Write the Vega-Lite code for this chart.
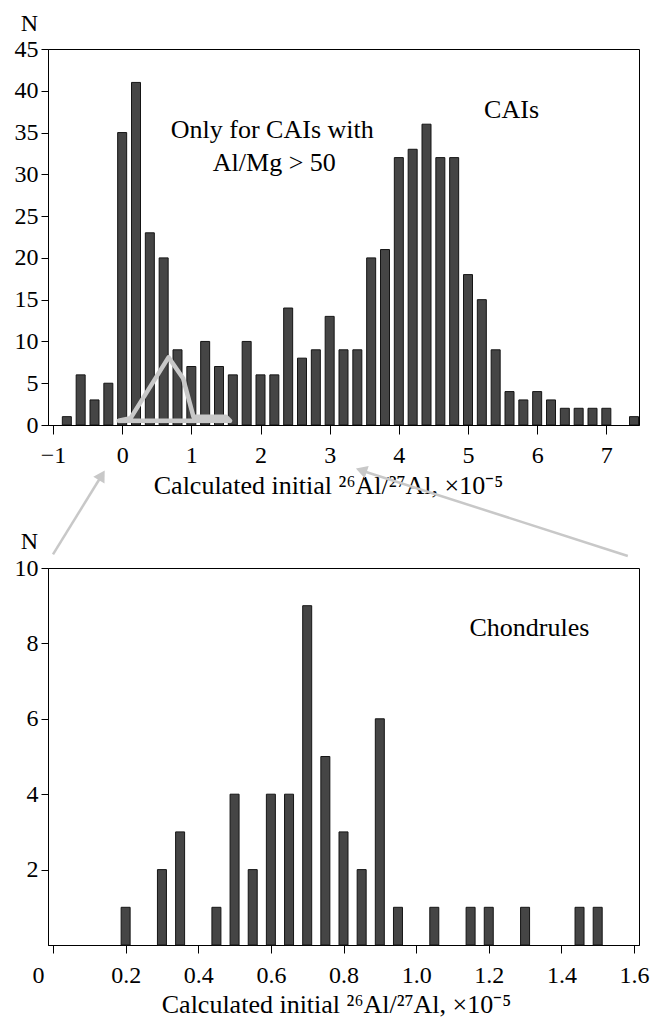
{
  "$schema": "https://vega.github.io/schema/vega-lite/v6.json",
  "padding": {"left": 13, "top": 10, "right": 5, "bottom": 0},
  "spacing": 143,
  "bounds": "flush",
  "background": "white",
  "config": {
    "font": "Liberation Serif",
    "view": {"stroke": "black", "strokeWidth": 1},
    "axis": {
      "domainColor": "black", "tickColor": "black", "labelColor": "black", "titleColor": "black",
      "labelFont": "Liberation Serif", "titleFont": "Liberation Serif",
      "labelFontSize": 24, "titleFontSize": 26, "titleFontWeight": "normal",
      "grid": false, "domainWidth": 1, "tickWidth": 1, "labelFlush": false, "labelOverlap": false
    },
    "text": {"font": "Liberation Serif", "fontSize": 26, "color": "black"}
  },
  "vconcat": [
    {
      "width": 591,
      "height": 376,
      "layer": [
        {
          "data": {"values": [
            {"value": -0.8, "count": 1}, {"value": -0.6, "count": 6}, {"value": -0.4, "count": 3},
            {"value": -0.2, "count": 5}, {"value": 0.0, "count": 35}, {"value": 0.2, "count": 41},
            {"value": 0.4, "count": 23}, {"value": 0.6, "count": 20}, {"value": 0.8, "count": 9},
            {"value": 1.0, "count": 7}, {"value": 1.2, "count": 10}, {"value": 1.4, "count": 7},
            {"value": 1.6, "count": 6}, {"value": 1.8, "count": 10}, {"value": 2.0, "count": 6},
            {"value": 2.2, "count": 6}, {"value": 2.4, "count": 14}, {"value": 2.6, "count": 8},
            {"value": 2.8, "count": 9}, {"value": 3.0, "count": 13}, {"value": 3.2, "count": 9},
            {"value": 3.4, "count": 9}, {"value": 3.6, "count": 20}, {"value": 3.8, "count": 21},
            {"value": 4.0, "count": 32}, {"value": 4.2, "count": 33}, {"value": 4.4, "count": 36},
            {"value": 4.6, "count": 32}, {"value": 4.8, "count": 32}, {"value": 5.0, "count": 18},
            {"value": 5.2, "count": 15}, {"value": 5.4, "count": 9}, {"value": 5.6, "count": 4},
            {"value": 5.8, "count": 3}, {"value": 6.0, "count": 4}, {"value": 6.2, "count": 3},
            {"value": 6.4, "count": 2}, {"value": 6.6, "count": 2}, {"value": 6.8, "count": 2},
            {"value": 7.0, "count": 2}, {"value": 7.4, "count": 1}
          ]},
          "mark": {"type": "bar", "size": 9, "fill": "#454545", "stroke": "#151515", "strokeWidth": 1, "clip": true},
          "encoding": {
            "x": {
              "field": "value", "type": "quantitative",
              "scale": {"domain": [-1, 7.4], "nice": false, "zero": false},
              "axis": {
                "values": [-1, 0, 1, 2, 3, 4, 5, 6, 7], "format": "d",
                "tickSize": 9, "labelPadding": 28, "labelBaseline": "alphabetic",
                "title": "Calculated initial ²⁶Al/²⁷Al, ×10⁻⁵",
                "titleX": 280, "titleY": 68, "titleAlign": "center", "titleBaseline": "alphabetic"
              }
            },
            "y": {
              "field": "count", "type": "quantitative",
              "scale": {"domain": [0, 45], "nice": false},
              "axis": {
                "values": [0, 5, 10, 15, 20, 25, 30, 35, 40, 45],
                "tickSize": 7, "labelPadding": 3,
                "title": "N", "titleFontSize": 24, "titleAngle": 0, "titleX": -19, "titleY": -19,
                "titleAlign": "center", "titleBaseline": "alphabetic"
              }
            }
          }
        },
        {
          "data": {"values": [
            {"x": -0.05, "y": 0.5, "order": 1},
            {"x": 0.12, "y": 0.8, "order": 2},
            {"x": 0.67, "y": 8.1, "order": 3},
            {"x": 0.88, "y": 5.6, "order": 4},
            {"x": 1.03, "y": 1.0, "order": 5},
            {"x": 1.5, "y": 1.0, "order": 6},
            {"x": 1.56, "y": 0.5, "order": 7},
            {"x": -0.05, "y": 0.5, "order": 8}
          ]},
          "mark": {"type": "line", "color": "#c8c8c8", "strokeWidth": 4.5, "strokeJoin": "round", "strokeCap": "round"},
          "encoding": {
            "x": {"field": "x", "type": "quantitative", "scale": {"domain": [-1, 7.4], "nice": false, "zero": false}},
            "y": {"field": "y", "type": "quantitative", "scale": {"domain": [0, 45], "nice": false}},
            "order": {"field": "order", "type": "quantitative"}
          }
        },
        {
          "data": {"values": [
            {"x": 5.63, "y": 36.76, "label": "CAIs"},
            {"x": 2.17, "y": 34.37, "label": "Only for CAIs with"},
            {"x": 2.2, "y": 30.38, "label": "Al/Mg > 50"}
          ]},
          "mark": {"type": "text", "align": "center", "baseline": "alphabetic"},
          "encoding": {
            "x": {"field": "x", "type": "quantitative", "scale": {"domain": [-1, 7.4], "nice": false, "zero": false}},
            "y": {"field": "y", "type": "quantitative", "scale": {"domain": [0, 45], "nice": false}},
            "text": {"field": "label"}
          }
        }
      ]
    },
    {
      "width": 591,
      "height": 377,
      "layer": [
        {
          "data": {"values": [
            {"value": 0.2, "count": 1}, {"value": 0.3, "count": 2}, {"value": 0.35, "count": 3},
            {"value": 0.45, "count": 1}, {"value": 0.5, "count": 4}, {"value": 0.55, "count": 2},
            {"value": 0.6, "count": 4}, {"value": 0.65, "count": 4}, {"value": 0.7, "count": 9},
            {"value": 0.75, "count": 5}, {"value": 0.8, "count": 3}, {"value": 0.85, "count": 2},
            {"value": 0.9, "count": 6}, {"value": 0.95, "count": 1}, {"value": 1.05, "count": 1},
            {"value": 1.15, "count": 1}, {"value": 1.2, "count": 1}, {"value": 1.3, "count": 1},
            {"value": 1.45, "count": 1}, {"value": 1.5, "count": 1}
          ]},
          "mark": {"type": "bar", "size": 9, "fill": "#454545", "stroke": "#151515", "strokeWidth": 1},
          "encoding": {
            "x": {
              "field": "value", "type": "quantitative",
              "scale": {"domain": [0, 1.6], "nice": false, "zero": false},
              "axis": {
                "values": [0, 0.2, 0.4, 0.6, 0.8, 1.0, 1.2, 1.4, 1.6],
                "labelExpr": "datum.value == 0 ? '0' : format(datum.value, '.1f')",
                "labelOffset": {"condition": {"test": "datum.value == 0", "value": -15}, "value": 0},
                "tickSize": 8, "labelPadding": 29, "labelBaseline": "alphabetic",
                "title": "Calculated initial ²⁶Al/²⁷Al, ×10⁻⁵",
                "titleX": 288, "titleY": 67, "titleAlign": "center", "titleBaseline": "alphabetic"
              }
            },
            "y": {
              "field": "count", "type": "quantitative",
              "scale": {"domain": [0, 10], "nice": false},
              "axis": {
                "values": [2, 4, 6, 8, 10],
                "tickSize": 7, "labelPadding": 3,
                "title": "N", "titleFontSize": 24, "titleAngle": 0, "titleX": -19, "titleY": -20,
                "titleAlign": "center", "titleBaseline": "alphabetic"
              }
            }
          }
        },
        {
          "data": {"values": [
            {"x": 1.312, "y": 8.19, "label": "Chondrules"}
          ]},
          "mark": {"type": "text", "align": "center", "baseline": "alphabetic"},
          "encoding": {
            "x": {"field": "x", "type": "quantitative", "scale": {"domain": [0, 1.6], "nice": false, "zero": false}},
            "y": {"field": "y", "type": "quantitative", "scale": {"domain": [0, 10], "nice": false}},
            "text": {"field": "label"}
          }
        },
        {
          "data": {"values": [
            {"x": 0.0, "y": 10.36, "x2": 0.137, "y2": 12.5},
            {"x": 1.583, "y": 10.32, "x2": 0.845, "y2": 12.6}
          ]},
          "mark": {"type": "rule", "color": "#c8c8c8", "strokeWidth": 2.5},
          "encoding": {
            "x": {"field": "x", "type": "quantitative", "scale": {"domain": [0, 1.6], "nice": false, "zero": false}},
            "y": {"field": "y", "type": "quantitative", "scale": {"domain": [0, 10], "nice": false}},
            "x2": {"field": "x2"},
            "y2": {"field": "y2"}
          }
        },
        {
          "data": {"values": [{"x": 0.1344, "y": 12.46}]},
          "mark": {"type": "point", "shape": "triangle-up", "filled": true, "color": "#c8c8c8", "opacity": 1, "size": 170, "angle": 31},
          "encoding": {
            "x": {"field": "x", "type": "quantitative", "scale": {"domain": [0, 1.6], "nice": false, "zero": false}},
            "y": {"field": "y", "type": "quantitative", "scale": {"domain": [0, 10], "nice": false}}
          }
        },
        {
          "data": {"values": [{"x": 0.849, "y": 12.59}]},
          "mark": {"type": "point", "shape": "triangle-up", "filled": true, "color": "#c8c8c8", "opacity": 1, "size": 170, "angle": 288},
          "encoding": {
            "x": {"field": "x", "type": "quantitative", "scale": {"domain": [0, 1.6], "nice": false, "zero": false}},
            "y": {"field": "y", "type": "quantitative", "scale": {"domain": [0, 10], "nice": false}}
          }
        }
      ]
    }
  ]
}
